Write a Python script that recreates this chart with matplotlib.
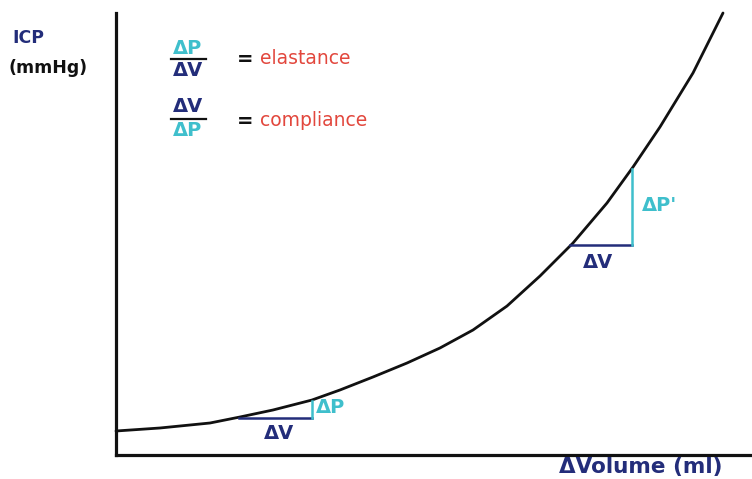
import matplotlib.pyplot as plt

# Curve (volume, ICP), arbitrary units 0..100
volume = [0, 6.94, 14.83, 19.56, 24.76, 30.91, 35.33, 40.54, 45.90, 51.10,
          56.31, 61.67, 66.88, 72.08, 77.44, 81.55, 85.80, 91.01, 95.74]
icp = [5.43, 6.11, 7.24, 8.60, 10.18, 12.44, 14.71, 17.65, 20.81, 24.21,
       28.28, 33.70, 40.50, 47.96, 57.01, 65.16, 74.21, 86.43, 100.0]

# Two delta triangles: (x0, x1, y0, y1)
small_tri = (19.4, 30.9, 8.4, 12.3)
large_tri = (71.6, 81.4, 47.5, 64.8)

DARK = "#232d7a"
CYAN = "#3fbfcc"
RED = "#e2473d"

fig = plt.figure(figsize=(7.52, 4.79), dpi=100)
ax = fig.add_axes([116 / 752, 1 - 455 / 479, 634 / 752, 442 / 479])
ax.set_xlim(0, 100)
ax.set_ylim(0, 100)
for s in ["top", "right"]:
    ax.spines[s].set_visible(False)
for s in ["left", "bottom"]:
    ax.spines[s].set_linewidth(2.3)
    ax.spines[s].set_color("#111111")
ax.set_xticks([])
ax.set_yticks([])

ax.plot(volume, icp, color="#111111", lw=2.0, clip_on=False,
        solid_capstyle="round", solid_joinstyle="round")

# triangles
for (x0, x1, y0, y1) in [small_tri, large_tri]:
    ax.plot([x0, x1], [y0, y0], color=DARK, lw=1.8)
    ax.plot([x1, x1], [y0, y1], color=CYAN, lw=1.8)

kw = dict(fontweight="bold", fontsize=14)
ax.text(small_tri[1] + 0.6, (small_tri[2] + small_tri[3]) / 2 + 0.5, "ΔP", color=CYAN, ha="left", va="center", **kw)
ax.text((small_tri[0] + small_tri[1]) / 2 + 0.6, small_tri[2] - 3.5, "ΔV", color=DARK, ha="center", va="center", **kw)
ax.text(large_tri[1] + 1.6, (large_tri[2] + large_tri[3]) / 2 + 0.3, "ΔP'", color=CYAN, ha="left", va="center", **kw)
ax.text((large_tri[0] + large_tri[1]) / 2 - 0.5, large_tri[2] - 4.0, "ΔV", color=DARK, ha="center", va="center", **kw)


def fx(px):
    return px / 752


def fy(py):
    return 1 - py / 479


fig.text(fx(12), fy(38), "ICP", color=DARK, ha="left", va="center", fontweight="bold", fontsize=12.5)
fig.text(fx(9), fy(68), "(mmHg)", color="#111111", ha="left", va="center", fontweight="bold", fontsize=12.5)

# fractions
fig.text(fx(188), fy(48), "ΔP", color=CYAN, ha="center", va="center", **kw)
fig.lines.append(plt.Line2D([fx(171), fx(206)], [fy(59), fy(59)], color="#111111", lw=1.6, transform=fig.transFigure))
fig.text(fx(188), fy(70), "ΔV", color=DARK, ha="center", va="center", **kw)
fig.text(fx(237), fy(59), "=", color="#111111", ha="left", va="center", **kw)
fig.text(fx(260), fy(59), "elastance", color=RED, ha="left", va="center", fontsize=13.5)

fig.text(fx(188), fy(107), "ΔV", color=DARK, ha="center", va="center", **kw)
fig.lines.append(plt.Line2D([fx(171), fx(206)], [fy(119), fy(119)], color="#111111", lw=1.6, transform=fig.transFigure))
fig.text(fx(188), fy(131), "ΔP", color=CYAN, ha="center", va="center", **kw)
fig.text(fx(237), fy(121), "=", color="#111111", ha="left", va="center", **kw)
fig.text(fx(260), fy(121), "compliance", color=RED, ha="left", va="center", fontsize=13.5)

fig.text(fx(641), fy(467), "ΔVolume (ml)", color=DARK, ha="center", va="center", fontweight="bold", fontsize=15.5)

fig.savefig("out.png", dpi=100, facecolor="white")
